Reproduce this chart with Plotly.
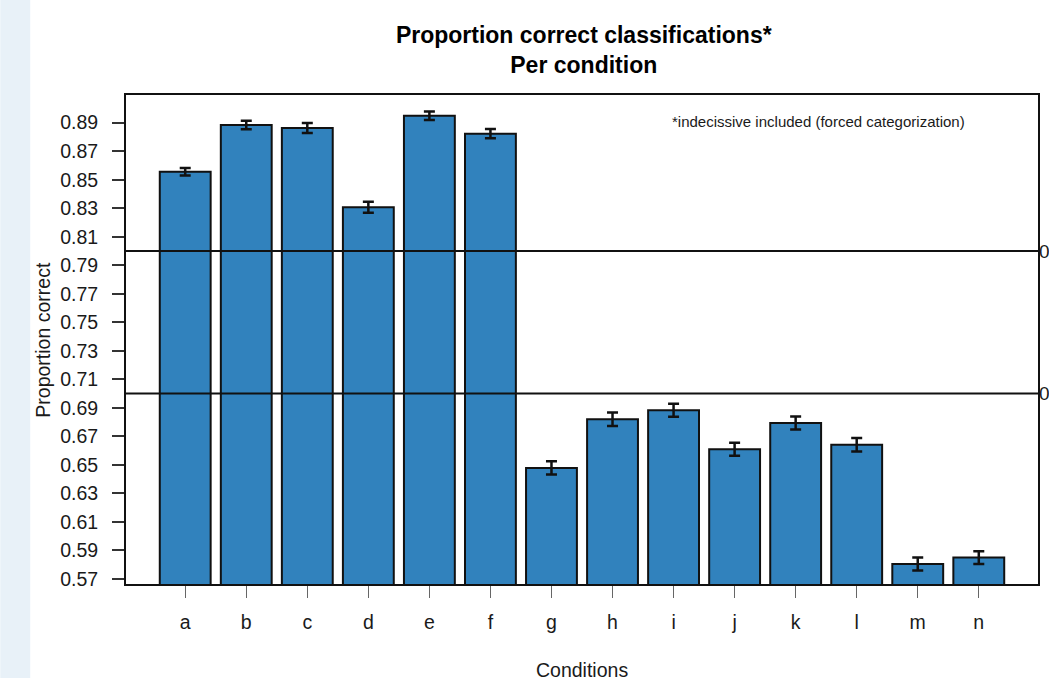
import plotly.graph_objects as go

conditions = ["a", "b", "c", "d", "e", "f", "g", "h", "i", "j", "k", "l", "m", "n"]
proportion = [0.8556, 0.8884, 0.8863, 0.8307, 0.8949, 0.8823, 0.6479,
              0.6820, 0.6883, 0.6610, 0.6794, 0.6642, 0.5805, 0.5850]
error = [0.0026, 0.0030, 0.0035, 0.0039, 0.0030, 0.0033, 0.0046,
         0.0047, 0.0046, 0.0045, 0.0046, 0.0047, 0.0046, 0.0045]
ytick_vals = [0.57, 0.59, 0.61, 0.63, 0.65, 0.67, 0.69, 0.71, 0.73, 0.75,
              0.77, 0.79, 0.81, 0.83, 0.85, 0.87, 0.89]
ytick_text = ["%.2f" % v for v in ytick_vals]
ref_lines = [0.8, 0.7]
ref_labels = ["0.8", "0.7"]

FONT = "Liberation Sans, Arial, Helvetica, sans-serif"
TXT = "#1a1a1a"

fig = go.Figure()
fig.add_trace(go.Bar(
    x=conditions, y=proportion,
    marker=dict(color="#3182bd", line=dict(color="#111111", width=2)),
    error_y=dict(type="data", array=error, visible=True,
                 color="#111111", thickness=2.5, width=5.5),
    showlegend=False, hoverinfo="x+y",
))

for v in ref_lines:
    fig.add_shape(type="line", xref="paper", x0=0, x1=1, yref="y", y0=v, y1=v,
                  line=dict(color="#111111", width=2), layer="above")

annotations = []
for v, t in zip(ref_lines, ref_labels):
    annotations.append(dict(text=t, xref="paper", x=1.0, xanchor="left", xshift=-1,
                            yref="y", y=v, yanchor="middle", showarrow=False,
                            font=dict(size=19, color=TXT, family=FONT)))
annotations.append(dict(text="*indecissive included (forced categorization)",
                        xref="paper", x=0.7588, xanchor="center",
                        yref="y", y=0.8907, yanchor="middle", showarrow=False,
                        font=dict(size=15, color=TXT, family=FONT)))
annotations.append(dict(text="Proportion correct", xref="paper", x=-0.0919,
                        xanchor="center", yref="paper", y=0.5, yanchor="middle",
                        textangle=-90, showarrow=False,
                        font=dict(size=19.5, color=TXT, family=FONT)))
annotations.append(dict(text="Conditions", xref="paper", x=0.5, xanchor="center",
                        yref="paper", y=-0.1753, yanchor="middle", showarrow=False,
                        font=dict(size=19.5, color=TXT, family=FONT)))

fig.update_layout(
    width=1049, height=678,
    margin=dict(l=126, r=9, t=95, b=94),
    paper_bgcolor="white", plot_bgcolor="white",
    font=dict(family=FONT, color=TXT, size=19.5),
    bargap=1 - 1 / 1.2,
    title=dict(text="<b>Proportion correct classifications*<br>Per condition</b>",
               x=0.5565, xanchor="center", xref="container",
               y=0.937, yanchor="top", yref="container",
               font=dict(size=23, color="#000000", family=FONT)),
    annotations=annotations,
    xaxis=dict(type="category", range=[-0.97, 13.97], showgrid=False,
               zeroline=False, showline=True, mirror=True, linecolor="#111111",
               linewidth=2, ticks="outside", ticklen=12, tickwidth=1,
               tickcolor="#666666", ticklabelstandoff=8,
               tickfont=dict(size=19.5, color=TXT, family=FONT)),
    yaxis=dict(range=[0.5665, 0.9094], showgrid=False, zeroline=False,
               showline=True, mirror=True, linecolor="#111111", linewidth=2,
               ticks="outside", ticklen=12, tickwidth=1.5, tickcolor="#333333",
               tickvals=ytick_vals, ticktext=ytick_text, ticklabelstandoff=10,
               tickfont=dict(size=19.5, color=TXT, family=FONT)),
    shapes=list(fig.layout.shapes) + [
        dict(type="rect", xref="paper", yref="paper",
             x0=-126 / 914, x1=-96 / 914, y0=-94 / 489, y1=1 + 95 / 489,
             fillcolor="#e8f1f8", line=dict(width=0), layer="below"),
    ],
)

fig.write_html("out.html")
